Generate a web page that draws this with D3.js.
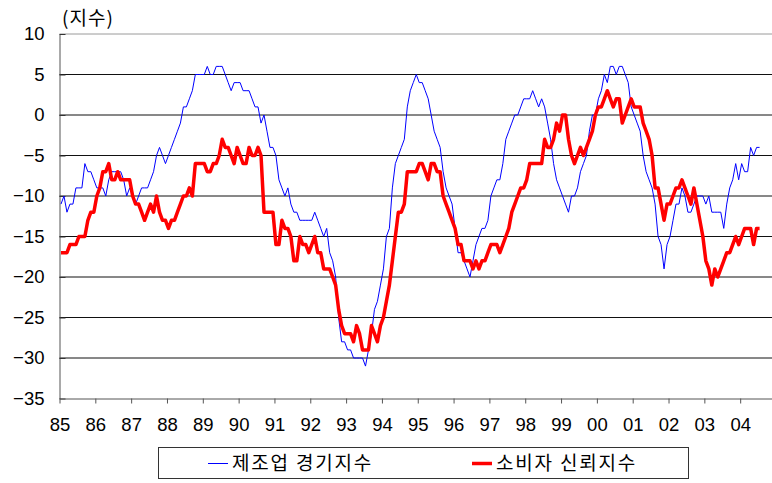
<!DOCTYPE html>
<html>
<head>
<meta charset="utf-8">
<script src="https://cdn.jsdelivr.net/npm/d3@7"></script>
<style>
  html, body { margin: 0; padding: 0; background: #fff; }
  svg { display: block; }
  .axis text { font-family: "Liberation Sans", Arial, sans-serif; font-size: 18.5px; fill: #000; }
  .kr { font-family: "Noto Sans CJK KR", sans-serif; fill: #000; }
</style>
</head>
<body>
<div id="chart"></div>
<script>
// ── DATA ─────────────────────────────────────────────────────────────────────
// monthly values, first entry = Jan 1985
const START_YEAR = 1985;

const seriesNames = ['제조업 경기지수', '소비자 신뢰지수'];

const mfgIndex = [
  -11, -10, -12, -11, -11,  -9,  -9,  -9,  -6,  -7,  -7,  -8,   // 1985
   -9,  -9,  -9, -10,  -8,  -7,  -7,  -7,  -7,  -8, -10,  -9,   // 1986
  -10, -11, -10,  -9,  -9,  -9,  -8,  -7,  -5,  -4,  -5,  -6,   // 1987
   -5,  -4,  -3,  -2,  -1,   1,   1,   2,   3,   5,   5,   5,   // 1988
    5,   6,   5,   5,   6,   6,   6,   5,   4,   3,   4,   4,   // 1989
    4,   3,   3,   3,   2,   1,   1,  -1,   0,  -2,  -4,  -4,   // 1990
   -5,  -8,  -9, -10,  -9, -11, -12, -12, -13, -13, -13, -13,   // 1991
  -13, -12, -13, -14, -15, -14, -17, -18, -20, -25, -28, -28,   // 1992
  -29, -29, -30, -30, -30, -30, -31, -29, -27, -24, -23, -21,   // 1993
  -19, -15, -14,  -9,  -6,  -5,  -4,  -3,   1,   3,   4,   5,   // 1994
    4,   4,   3,   2,   0,  -2,  -3,  -4,  -7,  -9, -10, -11,   // 1995
  -14, -17, -17, -18, -19, -20, -18, -16, -15, -14, -14, -13,   // 1996
  -10,  -9,  -8,  -8,  -6,  -3,  -2,  -1,   0,   0,   1,   2,   // 1997
    2,   2,   3,   2,   1,   2,   1,  -1,  -3,  -6,  -8,  -9,   // 1998
  -10, -11, -12, -10, -10,  -9,  -7,  -6,  -5,  -2,   0,   0,   // 1999
    2,   3,   5,   4,   6,   6,   5,   6,   6,   5,   4,   1,   // 2000
    0,  -1,  -2,  -5,  -7,  -8,  -9, -11, -15, -16, -19, -16,   // 2001
  -15, -13, -11, -11,  -9, -10, -12, -12, -11, -10, -10, -10,   // 2002
  -11, -10, -12, -12, -12, -12, -14, -11,  -9,  -8,  -6,  -8,   // 2003
   -6,  -7,  -7,  -4,  -5,  -4,  -4                             // 2004
];

const consumerIndex = [
  -17, -17, -17, -16, -16, -16, -15, -15, -15, -13, -12, -12,   // 1985
  -10,  -9,  -7,  -7,  -6,  -8,  -8,  -7,  -8,  -8,  -8,  -8,   // 1986
  -10, -11, -11, -12, -13, -12, -11, -12, -10, -12, -13, -13,   // 1987
  -14, -13, -13, -12, -11, -10, -10,  -9, -10,  -6,  -6,  -6,   // 1988
   -6,  -7,  -7,  -6,  -6,  -5,  -3,  -4,  -4,  -5,  -6,  -4,   // 1989
   -5,  -6,  -6,  -4,  -5,  -5,  -4,  -5, -12, -12, -12, -12,   // 1990
  -16, -16, -13, -14, -14, -15, -18, -18, -15, -16, -16, -17,   // 1991
  -16, -15, -17, -17, -19, -19, -19, -20, -21, -24, -26, -27,   // 1992
  -27, -27, -28, -26, -27, -29, -29, -29, -26, -27, -28, -26,   // 1993
  -25, -23, -21, -18, -15, -12, -12, -11,  -7,  -7,  -7,  -7,   // 1994
   -6,  -6,  -7,  -8,  -6,  -6,  -7,  -7, -10, -11, -12, -13,   // 1995
  -14, -16, -16, -18, -18, -18, -19, -18, -19, -18, -18, -17,   // 1996
  -16, -16, -16, -17, -16, -15, -14, -12, -11, -10,  -9,  -9,   // 1997
   -8,  -6,  -6,  -6,  -6,  -6,  -3,  -4,  -4,  -3,  -1,  -2,   // 1998
    0,   0,  -3,  -5,  -6,  -5,  -4,  -5,  -4,  -3,  -2,   0,   // 1999
    1,   1,   2,   3,   2,   1,   2,   2,  -1,   0,   1,   2,   // 2000
    1,   1,   1,  -1,  -2,  -3,  -5,  -9,  -9, -11, -13, -11,   // 2001
  -11, -10,  -9,  -9,  -8,  -9, -10, -11,  -9, -11, -13, -15,   // 2002
  -18, -19, -21, -19, -20, -19, -18, -17, -17, -16, -15, -16,   // 2003
  -15, -14, -14, -14, -16, -14, -14                             // 2004
];

const yTicks     = [-35, -30, -25, -20, -15, -10, -5, 0, 5, 10];
const xTickYears = [1985, 1986, 1987, 1988, 1989, 1990, 1991, 1992, 1993, 1994,
                    1995, 1996, 1997, 1998, 1999, 2000, 2001, 2002, 2003, 2004];
const yearLabels = ['85', '86', '87', '88', '89', '90', '91', '92', '93', '94',
                    '95', '96', '97', '98', '99', '00', '01', '02', '03', '04'];

// ── DIMENSIONS ───────────────────────────────────────────────────────────────
const W = 772, H = 483;
const plot = { left: 59.5, right: 776, top: 34, bottom: 398.5 };

const svg = d3.select('#chart')
  .append('svg')
    .attr('width', W)
    .attr('height', H);

svg.append('rect').attr('width', W).attr('height', H).attr('fill', '#fff');

// ── SCALES ───────────────────────────────────────────────────────────────────
const x = d3.scaleLinear().domain([1985, 2005]).range([plot.left, plot.right]);
const y = d3.scaleLinear().domain([-35, 10]).range([plot.bottom, plot.top]);

// month i plotted at the middle of its month
const toPoints = arr => arr.map((v, i) => ({ t: START_YEAR + (i + 0.5) / 12, v }));

// ── GRID ─────────────────────────────────────────────────────────────────────
svg.append('g')
  .selectAll('line')
  .data(yTicks.filter(d => d > -35))
  .join('line')
    .attr('x1', plot.left).attr('x2', W)
    .attr('y1', d => y(d)).attr('y2', d => y(d))
    .attr('stroke', d => d === 10 ? '#9a9a9a' : '#111')
    .attr('stroke-width', 1);

// ── AXES ─────────────────────────────────────────────────────────────────────
const yAxis = svg.append('g')
  .attr('class', 'axis')
  .attr('transform', `translate(${plot.left},0)`)
  .call(d3.axisLeft(y).tickValues(yTicks).tickSize(-6).tickSizeOuter(0).tickPadding(15));
yAxis.select('.domain').attr('stroke', '#555');
yAxis.selectAll('.tick line').attr('stroke', '#333');

const xAxis = svg.append('g')
  .attr('class', 'axis')
  .attr('transform', `translate(0,${plot.bottom})`)
  .call(d3.axisBottom(x)
    .tickValues(xTickYears)
    .tickSize(5)
    .tickSizeOuter(0)
    .tickPadding(14)
    .tickFormat((d, i) => yearLabels[i]));
xAxis.select('.domain').attr('stroke', '#555');
xAxis.selectAll('.tick line').attr('stroke', '#555');

svg.append('text')
  .attr('class', 'kr')
  .attr('x', 62)
  .attr('y', 25)
  .attr('font-size', '19px')
  .attr('letter-spacing', '1px')
  .text('(지수)');

// ── LINES ────────────────────────────────────────────────────────────────────
const line = d3.line()
  .x(d => x(d.t))
  .y(d => y(d.v));

svg.append('path')
  .datum(toPoints(mfgIndex))
  .attr('fill', 'none')
  .attr('stroke', '#0000ff')
  .attr('stroke-width', 1)
  .attr('d', line);

svg.append('path')
  .datum(toPoints(consumerIndex))
  .attr('fill', 'none')
  .attr('stroke', '#ff0000')
  .attr('stroke-width', 3.5)
  .attr('stroke-linejoin', 'round')
  .attr('d', line);

// ── LEGEND ───────────────────────────────────────────────────────────────────
const legend = svg.append('g');
legend.append('rect')
  .attr('x', 158.5).attr('y', 447.5)
  .attr('width', 530).attr('height', 31)
  .attr('fill', '#fff')
  .attr('stroke', '#333');

const legendItems = [
  { name: seriesNames[0], color: '#0000ff', width: 1,   x: 208 },
  { name: seriesNames[1], color: '#ff0000', width: 3.5, x: 472 }
];

legendItems.forEach(d => {
  legend.append('line')
    .attr('x1', d.x).attr('x2', d.x + 20)
    .attr('y1', 463.5).attr('y2', 463.5)
    .attr('stroke', d.color)
    .attr('stroke-width', d.width);
  legend.append('text')
    .attr('class', 'kr')
    .attr('x', d.x + 24)
    .attr('y', 470)
    .attr('font-size', '19px')
    .attr('letter-spacing', '1.8px')
    .text(d.name);
});
</script>
</body>
</html>
